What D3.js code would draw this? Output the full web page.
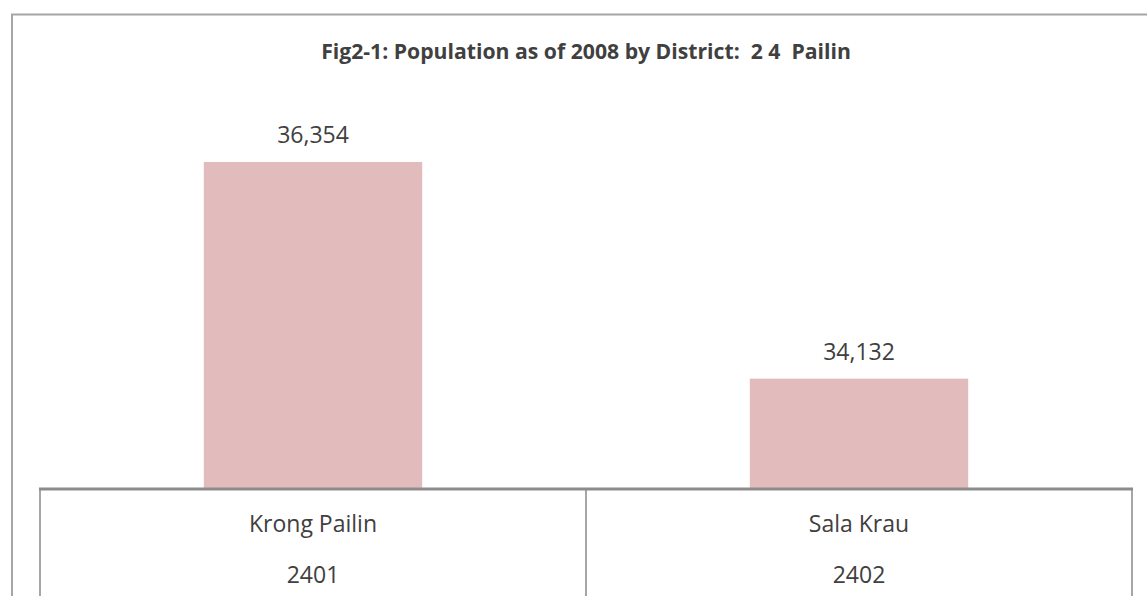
<!DOCTYPE html>
<html>
<head>
<meta charset="utf-8">
<script src="https://cdn.jsdelivr.net/npm/d3@7"></script>
<style>
  html, body { margin: 0; padding: 0; background: #fff; overflow: hidden; }
  svg { display: block; }
  text { white-space: pre; }
</style>
</head>
<body>
<svg id="chart" width="1147" height="596"></svg>
<script>
const title = "Fig2-1: Population as of 2008 by District:  2 4  Pailin";
const districts = ["Krong Pailin", "Sala Krau"];
const codes = ["2401", "2402"];
const population = [36354, 34132];
const yDomain = [33000, 37000];

const svg = d3.select("#chart");
const W = 1147, H = 596;
const left = 40, right = 1132, baseY = 489, topY = 99;

// outer border
svg.append("rect")
  .attr("x", 12).attr("y", 14.5)
  .attr("width", W + 20).attr("height", H + 20)
  .attr("fill", "none").attr("stroke", "#a6a6a6").attr("stroke-width", 2);

const x = d3.scaleBand().domain(districts).range([left, right]).paddingInner(0).paddingOuter(0);
const y = d3.scaleLinear().domain(yDomain).range([baseY, topY]);
const barW = x.bandwidth() * 0.4;

// title
svg.append("text")
  .attr("x", (left + right) / 2).attr("y", 59)
  .attr("text-anchor", "middle")
  .attr("xml:space", "preserve")
  .attr("font-family", "'Open Sans', sans-serif")
  .attr("font-weight", "bold")
  .attr("font-size", 21.2)
  .attr("fill", "#404040")
  .text(title);

const data = districts.map((d, i) => ({ name: d, code: codes[i], value: population[i] }));

svg.selectAll("rect.bar").data(data).join("rect")
  .attr("class", "bar")
  .attr("x", d => x(d.name) + (x.bandwidth() - barW) / 2)
  .attr("width", barW)
  .attr("y", d => y(d.value))
  .attr("height", d => baseY - y(d.value))
  .attr("fill", "#e2bcbc");

svg.selectAll("text.val").data(data).join("text")
  .attr("class", "val")
  .attr("x", d => x(d.name) + x.bandwidth() / 2)
  .attr("y", d => y(d.value) - 19)
  .attr("text-anchor", "middle")
  .attr("font-family", "'Open Sans', sans-serif")
  .attr("font-size", 23)
  .attr("fill", "#404040")
  .text(d => d3.format(",")(d.value));

// table lines (category axis)
const bounds = [left].concat(districts.map(d => x(d) + x.bandwidth()));
svg.selectAll("line.vt").data(bounds).join("line")
  .attr("class", "vt")
  .attr("x1", d => d).attr("x2", d => d)
  .attr("y1", baseY).attr("y2", H + 5)
  .attr("stroke", "#a6a6a6").attr("stroke-width", 2);

svg.append("line")
  .attr("x1", left - 1).attr("x2", right + 1)
  .attr("y1", baseY).attr("y2", baseY)
  .attr("stroke", "#8c8c8c").attr("stroke-width", 3);

svg.selectAll("text.cat").data(data).join("text")
  .attr("class", "cat")
  .attr("x", d => x(d.name) + x.bandwidth() / 2)
  .attr("y", 532)
  .attr("text-anchor", "middle")
  .attr("font-family", "'Open Sans', sans-serif")
  .attr("font-size", 23)
  .attr("fill", "#404040")
  .text(d => d.name);

svg.selectAll("text.code").data(data).join("text")
  .attr("class", "code")
  .attr("x", d => x(d.name) + x.bandwidth() / 2)
  .attr("y", 583)
  .attr("text-anchor", "middle")
  .attr("font-family", "'Open Sans', sans-serif")
  .attr("font-size", 23)
  .attr("fill", "#404040")
  .text(d => d.code);
</script>
</body>
</html>
